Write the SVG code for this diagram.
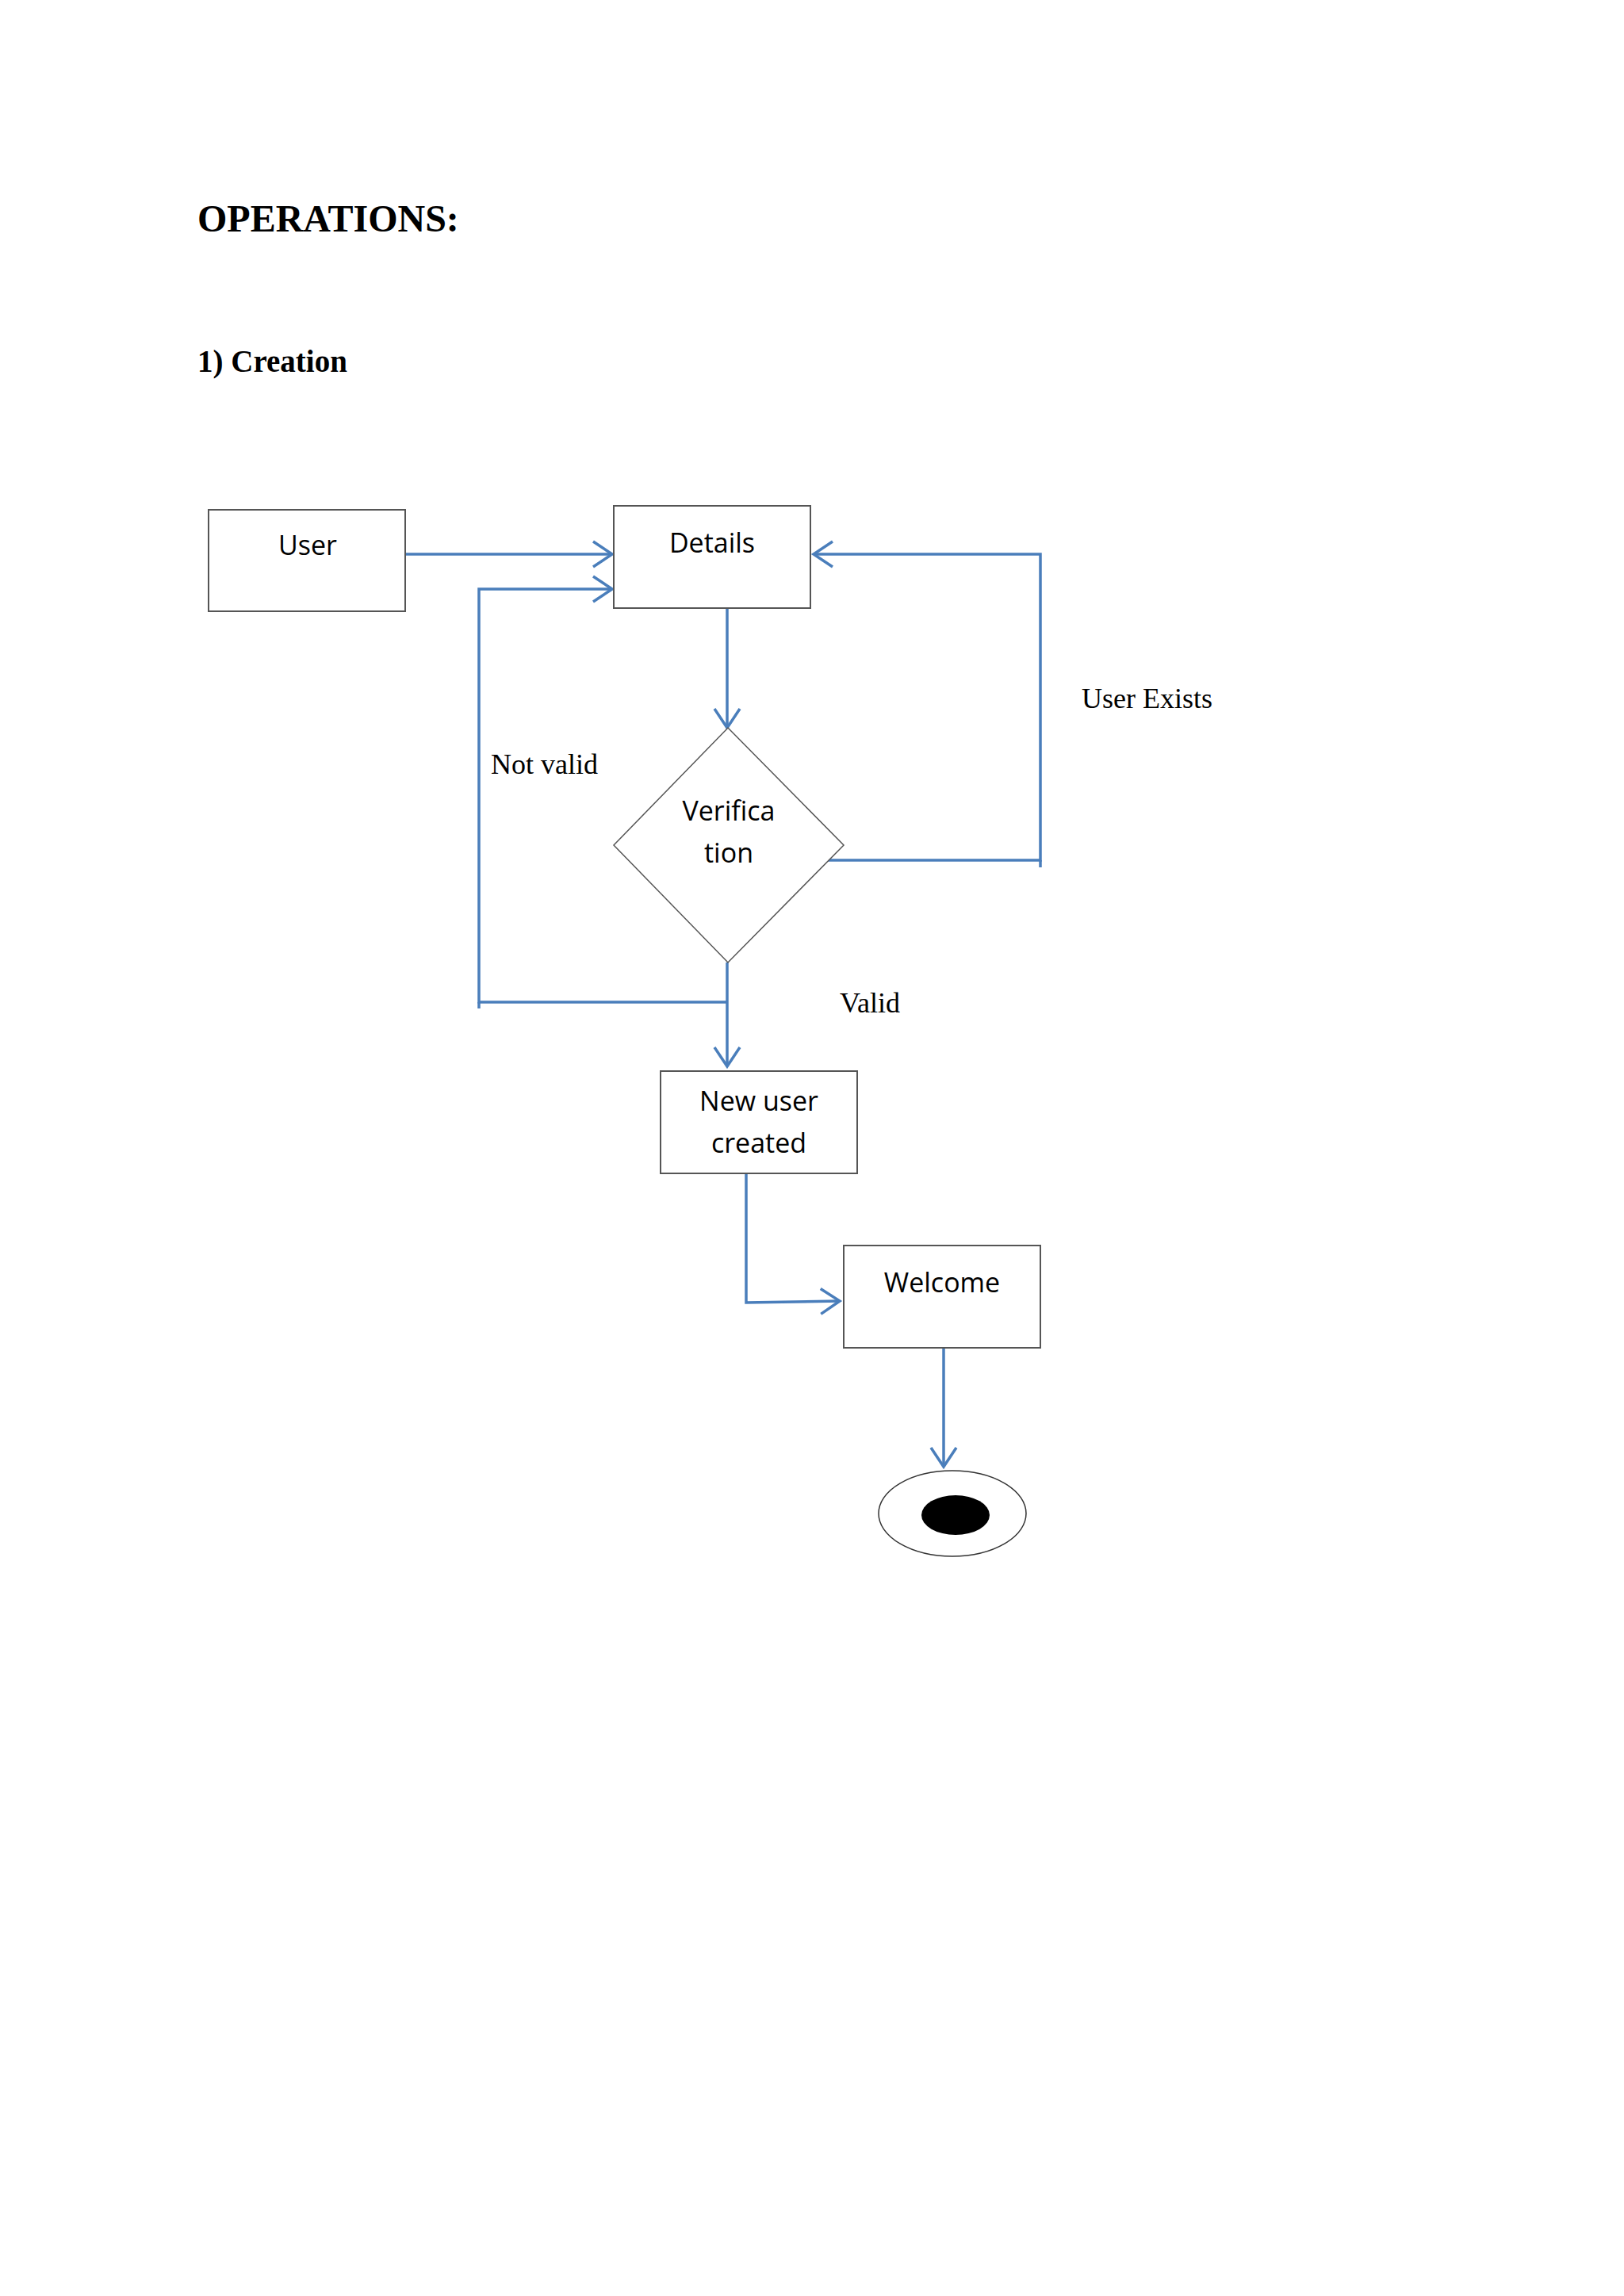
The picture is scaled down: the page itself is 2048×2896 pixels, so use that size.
<svg xmlns="http://www.w3.org/2000/svg" width="2048" height="2896" viewBox="0 0 2048 2896">
<style>
.box{fill:#fff;stroke:#555;stroke-width:2}
.lbl{font-family:"Open Sans","Liberation Sans",sans-serif;font-size:34px;fill:#000;text-anchor:middle}
.ser{font-family:"Liberation Serif",serif;font-size:36px;fill:#000}
.c{fill:none;stroke:#4a7ebb;stroke-width:3.5}
</style>
<defs>
<marker id="a" markerUnits="userSpaceOnUse" markerWidth="40" markerHeight="40" refX="26" refY="18" orient="auto">
<path d="M2,2 L26,18 L2,34" fill="none" stroke="#4a7ebb" stroke-width="3.5"/>
</marker>
</defs>
<rect width="2048" height="2896" fill="#fff"/>
<text x="249" y="292" font-family="Liberation Serif,serif" font-size="48" font-weight="bold">OPERATIONS:</text>
<text x="249" y="469" font-family="Liberation Serif,serif" font-size="39" font-weight="bold">1) Creation</text>
<g id="connectors">
<path class="c" d="M510,699 H772" marker-end="url(#a)"/>
<path class="c" d="M917,1264 H604 V743 H772" marker-end="url(#a)"/>
<path class="c" d="M604,1264 V1272"/>
<path class="c" d="M917,765 V918" marker-end="url(#a)"/>
<path class="c" d="M1040,1085 H1312 V699 H1026" marker-end="url(#a)"/>
<path class="c" d="M1312,1085 V1094"/>
<path class="c" d="M917,1214 V1345" marker-end="url(#a)"/>
<path class="c" d="M941,1480 V1643 L1059,1641" marker-end="url(#a)"/>
<path class="c" d="M1190,1700 V1850" marker-end="url(#a)"/>
</g>
<g id="user"><rect class="box" x="263" y="643" width="248" height="128"/><text class="lbl" x="388" y="700">User</text></g>
<g id="details"><rect class="box" x="774" y="638" width="248" height="129"/><text class="lbl" x="898" y="697">Details</text></g>
<g id="verification"><polygon class="box" points="918,918 1064,1066 918,1214 774,1066" style="stroke-width:1.5"/><text class="lbl" x="919" y="1035">Verifica</text><text class="lbl" x="919" y="1088">tion</text></g>
<g id="newuser"><rect class="box" x="833" y="1351" width="248" height="129"/><text class="lbl" x="957" y="1401">New user</text><text class="lbl" x="957" y="1454">created</text></g>
<g id="welcome"><rect class="box" x="1064" y="1571" width="248" height="129"/><text class="lbl" x="1188" y="1630">Welcome</text></g>
<g id="end"><ellipse cx="1201" cy="1909" rx="93" ry="54" fill="#fff" stroke="#333" stroke-width="1.5"/><ellipse cx="1205" cy="1911" rx="43" ry="25" fill="#000"/></g>
<g id="labels">
<text class="ser" x="1364" y="893">User Exists</text>
<text class="ser" x="619" y="976">Not valid</text>
<text class="ser" x="1059" y="1277">Valid</text>
</g>
</svg>
